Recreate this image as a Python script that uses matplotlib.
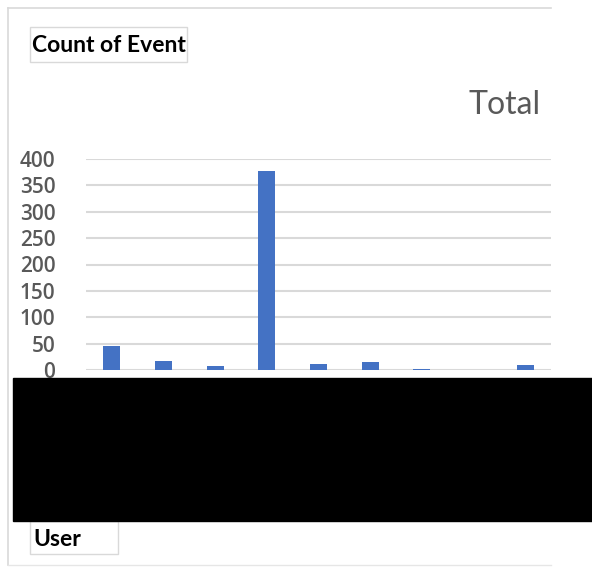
import matplotlib.pyplot as plt
from matplotlib.patches import Rectangle

# pivot chart: count of events per user
users = ["u1", "u2", "u3", "u4", "u5", "u6", "u7", "u8", "u9"]
counts = [45, 17, 8, 377, 12, 16, 1, 0, 9]
yticks = [0, 50, 100, 150, 200, 250, 300, 350, 400]

W, H = 592, 569
fig = plt.figure(figsize=(W / 100, H / 100), dpi=100)
plt.rcParams['font.family'] = ['Lato', 'DejaVu Sans']


def fx(px):
    return px / W


def fy(py):
    return 1 - py / H


def frame(x0, y0, x1, y1, color="#d9d9d9", lw=1.0, fill="none", z=1):
    r = Rectangle((fx(x0), fy(y1)), fx(x1) - fx(x0), fy(y0) - fy(y1),
                  transform=fig.transFigure, facecolor=fill, edgecolor=color,
                  linewidth=lw, zorder=z)
    fig.add_artist(r)


# outer chart area border (left, top, bottom only)
fig.add_artist(plt.Line2D([fx(8), fx(8)], [fy(8), fy(565)], transform=fig.transFigure,
                          color="#d9d9d9", lw=1.2))
fig.add_artist(plt.Line2D([fx(8), fx(551)], [fy(8), fy(8)], transform=fig.transFigure,
                          color="#d9d9d9", lw=1.2))
fig.add_artist(plt.Line2D([fx(8), fx(551)], [fy(565), fy(565)], transform=fig.transFigure,
                          color="#e6e6e6", lw=1.0))

ax = fig.add_axes([fx(86), fy(370), fx(551) - fx(86), fy(159) - fy(370)])
x = range(len(users))
ax.bar(x, counts, width=0.33, color="#4472C4", zorder=3)
ax.set_xlim(-0.5, len(users) - 0.5)
ax.set_ylim(0, 400)
ax.set_yticks(yticks)
ax.set_yticklabels([str(t) for t in yticks], fontsize=15, color="#595959",
                   family=["Open Sans", "DejaVu Sans"], fontweight="semibold")
ax.set_xticks([])
ax.tick_params(axis="y", length=0, pad=22)
ax.grid(axis="y", color="#d9d9d9", lw=1.5, zorder=0)
for s in ax.spines.values():
    s.set_visible(False)

# field buttons and title
frame(30, 27, 187, 62)
fig.text(fx(32), fy(45), "Count of Event", fontsize=16.5, color="black",
         va="center", ha="left", fontweight="bold")
fig.text(fx(541), fy(105), "Total", fontsize=23, color="#595959",
         va="center", ha="right")

frame(30, 521, 118, 554)
fig.text(fx(33), fy(539), "User", fontsize=16.5, color="black",
         va="center", ha="left", fontweight="bold")

# redacted category labels
frame(13, 378, 592, 521, color="black", fill="black", z=5)

fig.savefig("out.png", dpi=100)
